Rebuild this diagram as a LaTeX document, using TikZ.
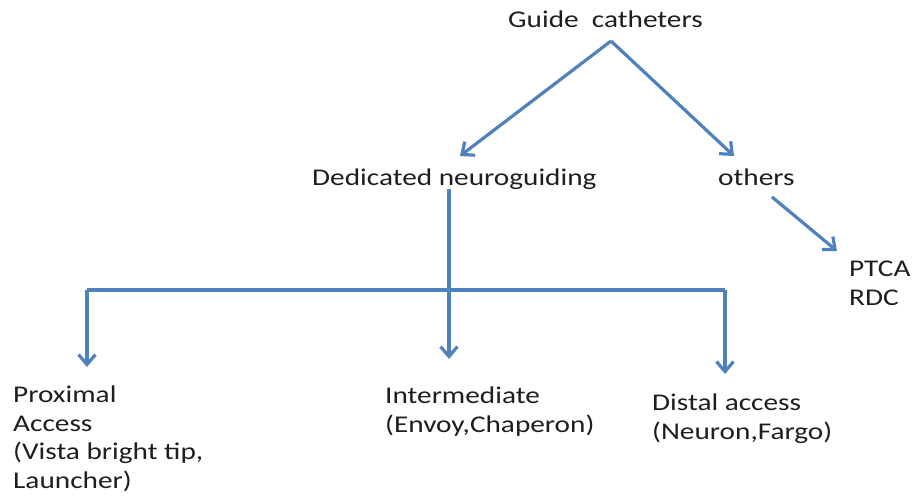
\documentclass[tikz,border=0pt]{standalone}
\usepackage{fontspec}
\setmainfont[FakeStretch=1.22]{Carlito}
\usetikzlibrary{arrows.meta}
\definecolor{lineblue}{HTML}{4F81BD}
\definecolor{txt}{HTML}{1E1E1E}
\tikzset{
  lbl/.style={inner sep=0pt, anchor=base west, align=left, text=txt,
    font=\fontsize{24}{28.5}\selectfont},
  conn/.style={draw=lineblue, line width=3.2pt,
    -{Straight Barb[length=10pt,width=17pt]}},
  plain/.style={draw=lineblue, line width=3.2pt}
}
\begin{document}
\begin{tikzpicture}[x=1pt,y=-1pt]
\useasboundingbox (0,0) rectangle (915,495);
\node[lbl] (guide) at (508,28) {Guide\ \ catheters};
\node[lbl] (ded) at (312,185) {Dedicated neuroguiding};
\node[lbl] (oth) at (718,185) {others};
\node[lbl] (ptca) at (849,305) {PTCA\\RDC};
\node[lbl] (prox) at (13,488) {Proximal\\Access\\(Vista bright tip,\\Launcher)};
\node[lbl] (inter) at (385,432) {Intermediate\\(Envoy,Chaperon)};
\node[lbl] (dist) at (652,439) {Distal access\\(Neuron,Fargo)};
\coordinate (apex) at (611,41);
\coordinate (dedtip) at (460,156);
\coordinate (othtip) at (734,156);
\coordinate (othstart) at (772,197);
\coordinate (ptcatip) at (837,251);
\coordinate (dedstart) at (449,189);
\coordinate (intertip) at (449,359);
\coordinate (barL) at (87,290);
\coordinate (barR) at (725,290);
\coordinate (proxtip) at (87,367);
\coordinate (disttip) at (725,374);
\draw[conn] (apex) -- (dedtip);
\draw[conn] (apex) -- (othtip);
\draw[conn] (othstart) -- (ptcatip);
\draw[conn] (dedstart) -- (intertip);
\draw[plain] (barL) -- (barR);
\draw[conn] (barL) -- (proxtip);
\draw[conn] (barR) -- (disttip);
\end{tikzpicture}
\end{document}
